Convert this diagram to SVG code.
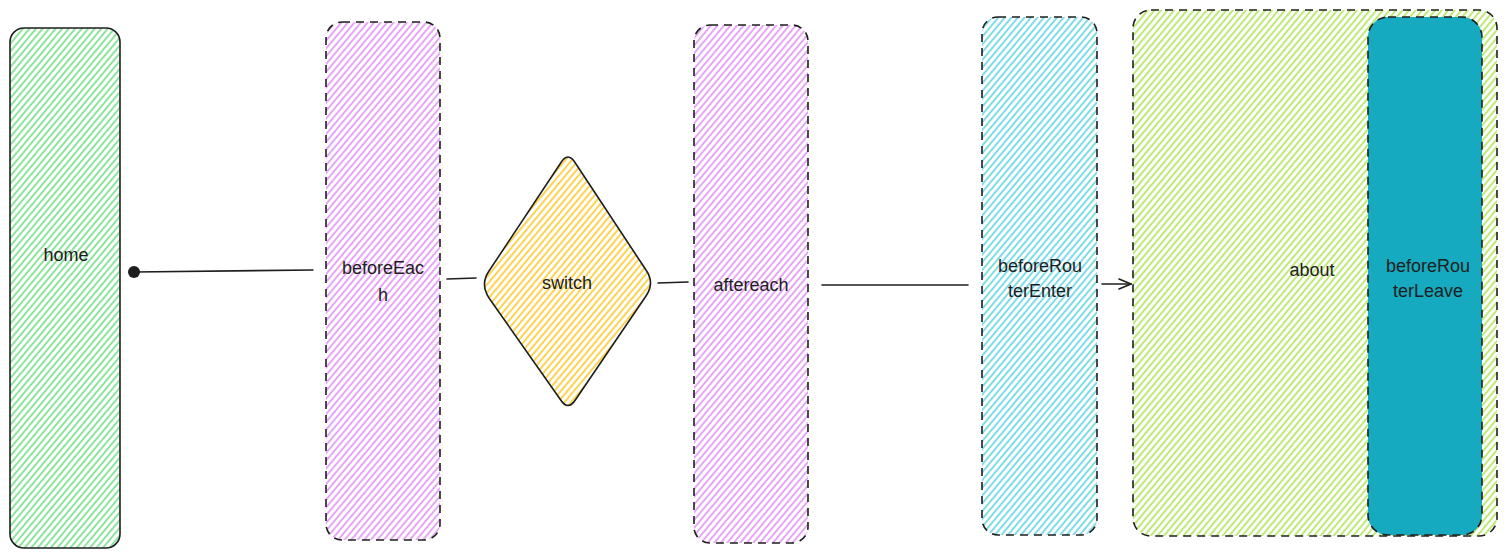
<svg xmlns="http://www.w3.org/2000/svg" width="1507" height="558" viewBox="0 0 1507 558">
<defs>
<style>
.lbl{font-family:"Liberation Sans","Noto Sans",sans-serif;font-size:18px;fill:#1e1e1e;text-anchor:middle;dominant-baseline:central}
.solid{stroke:#1e1e1e;stroke-width:1.6}
.dash{stroke:#1e1e1e;stroke-width:1.6;stroke-dasharray:8 6}
.conn{stroke:#1e1e1e;stroke-width:1.6;fill:none;stroke-linecap:round}
</style>
<pattern id="hGreen" width="5" height="5" patternUnits="userSpaceOnUse" patternTransform="rotate(40)"><line x1="1" y1="0" x2="1" y2="5" stroke="#69db7c" stroke-width="1.5"/></pattern>
<pattern id="hPurple" width="5" height="5" patternUnits="userSpaceOnUse" patternTransform="rotate(40)"><line x1="1" y1="0" x2="1" y2="5" stroke="#da77f2" stroke-width="1.3"/></pattern>
<pattern id="hOrange" width="5" height="5" patternUnits="userSpaceOnUse" patternTransform="rotate(40)"><line x1="1" y1="0" x2="1" y2="5" stroke="#fcc419" stroke-width="1.5"/></pattern>
<pattern id="hCyan" width="5" height="5" patternUnits="userSpaceOnUse" patternTransform="rotate(40)"><line x1="1" y1="0" x2="1" y2="5" stroke="#3bc9db" stroke-width="1.3"/></pattern>
<pattern id="hLime" width="5" height="5" patternUnits="userSpaceOnUse" patternTransform="rotate(40)"><line x1="1" y1="0" x2="1" y2="5" stroke="#a9e34b" stroke-width="1.5"/></pattern>
<marker id="arrow" viewBox="0 0 14 12" refX="13" refY="6" markerWidth="14" markerHeight="12" markerUnits="userSpaceOnUse" orient="auto"><path d="M1 1 L13 6 L1 11" fill="none" stroke="#1e1e1e" stroke-width="1.6" stroke-linecap="round"/></marker>
</defs>
<rect width="1507" height="558" fill="#ffffff"/>

<g id="home">
<rect x="10" y="28" width="110" height="520" rx="14" fill="url(#hGreen)" class="solid"/>
<text class="lbl" x="66" y="255">home</text>
</g>

<g id="beforeEach">
<rect x="326" y="22" width="114" height="518" rx="16" fill="url(#hPurple)" class="dash"/>
<text class="lbl" x="383" y="268">beforeEac</text>
<text class="lbl" x="383" y="295">h</text>
</g>

<g id="switch">
<path d="M560 164 Q568 150 576 164 L646 270 Q655 283 646 296 L576 399 Q568 412 560 399 L489 298 Q480 284 489 271 Z" fill="url(#hOrange)" class="solid"/>
<text class="lbl" x="567" y="283">switch</text>
</g>

<g id="aftereach">
<rect x="694" y="25" width="114" height="518" rx="16" fill="url(#hPurple)" class="dash"/>
<text class="lbl" x="751" y="285">aftereach</text>
</g>

<g id="beforeRouterEnter">
<rect x="982" y="17" width="115" height="518" rx="16" fill="url(#hCyan)" class="dash"/>
<text class="lbl" x="1040" y="266">beforeRou</text>
<text class="lbl" x="1040" y="291">terEnter</text>
</g>

<g id="about">
<rect x="1133" y="10" width="364" height="526" rx="18" fill="url(#hLime)" class="dash"/>
<text class="lbl" x="1312" y="270">about</text>
</g>

<g id="beforeRouterLeave">
<rect x="1368" y="17" width="114" height="518" rx="20" fill="#15aabf" class="dash"/>
<text class="lbl" x="1428" y="266">beforeRou</text>
<text class="lbl" x="1428" y="291">terLeave</text>
</g>

<g id="connectors">
<circle cx="134" cy="272" r="6" fill="#1e1e1e"/>
<path class="conn" d="M134 272 L313 270"/>
<path class="conn" d="M447 279 L476 278"/>
<path class="conn" d="M658 283 L688 282"/>
<path class="conn" d="M822 285 L968 285"/>
<path class="conn" d="M1102 284 L1131 284" marker-end="url(#arrow)"/>
</g>
</svg>
